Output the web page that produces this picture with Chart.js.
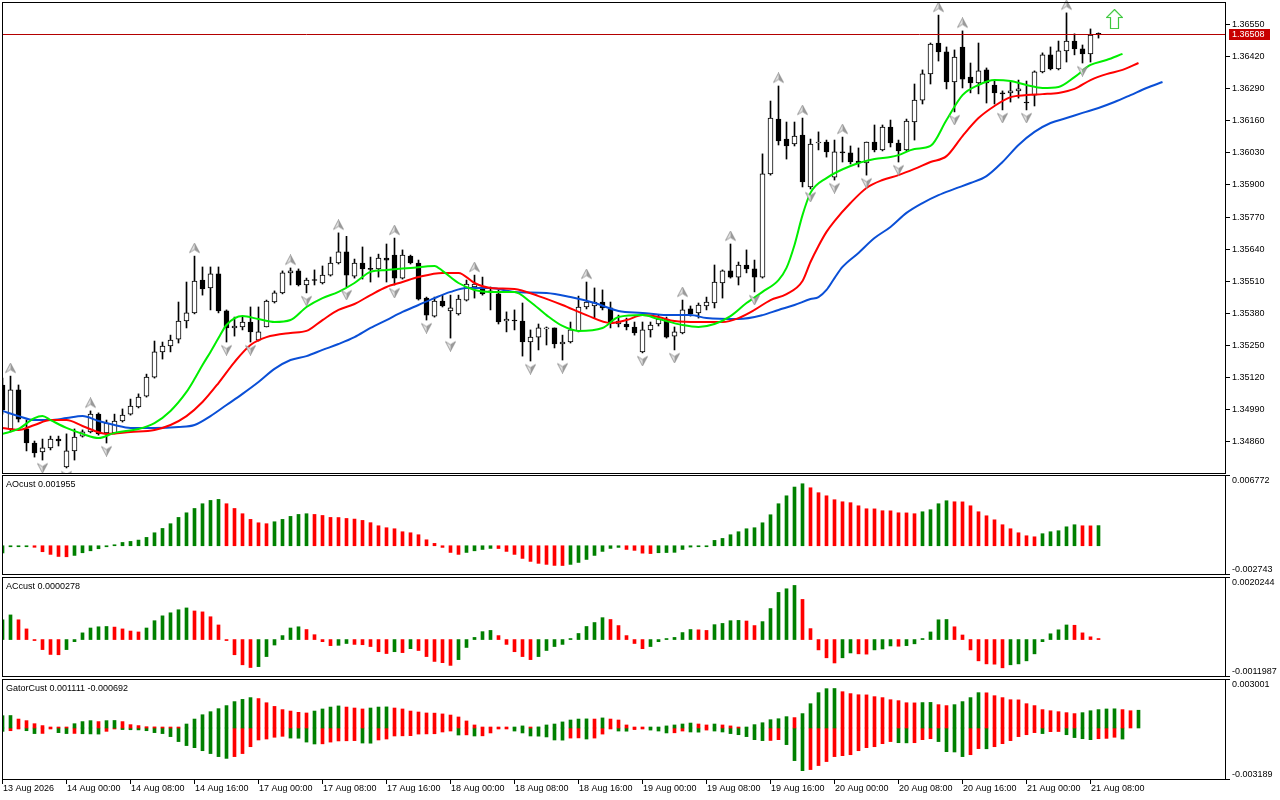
<!DOCTYPE html>
<html>
<head>
<meta charset="utf-8">
<script src="https://cdn.jsdelivr.net/npm/chart.js@4.4.1/dist/chart.umd.min.js"></script>
<style>
  html, body { margin: 0; padding: 0; background: #fff; }
  #wrap { position: relative; width: 1280px; height: 800px; overflow: hidden; }
  #wrap canvas { position: absolute; left: 0; }
</style>
</head>
<body>
<div id="wrap">
  <canvas id="mainChart" width="1280" height="474" style="top:0"></canvas>
  <canvas id="aoChart" width="1280" height="102" style="top:474px"></canvas>
  <canvas id="acChart" width="1280" height="102" style="top:576px"></canvas>
  <canvas id="gatorChart" width="1280" height="122" style="top:678px"></canvas>
</div>
<script>
// ===== candles (H1, bar 0 = 13 Aug 16:00) =====
const opens = [1.35088,1.34910,1.35068,1.34910,1.34853,1.34817,1.34833,1.34869,1.34756,1.34821,
  1.34881,1.34898,1.34970,1.34894,1.34894,1.34942,1.34970,1.34999,1.35043,1.35120,
  1.35222,1.35246,1.35274,1.35347,1.35380,1.35513,1.35481,1.35538,1.35388,1.35319,
  1.35323,1.35343,1.35270,1.35323,1.35424,1.35461,1.35542,1.35550,1.35493,1.35513,
  1.35501,1.35533,1.35582,1.35627,1.35529,1.35582,1.35558,1.35558,1.35602,1.35614,
  1.35521,1.35610,1.35582,1.35440,1.35367,1.35428,1.35388,1.35376,1.35432,1.35485,
  1.35485,1.35469,1.35457,1.35347,1.35351,1.35347,1.35262,1.35282,1.35315,1.35319,
  1.35254,1.35262,1.35307,1.35404,1.35408,1.35424,1.35400,1.35335,1.35335,1.35323,
  1.35222,1.35311,1.35335,1.35355,1.35286,1.35299,1.35396,1.35380,1.35408,1.35420,
  1.35501,1.35550,1.35525,1.35574,1.35558,1.35525,1.35943,1.36165,1.36084,1.36064,
  1.36100,1.35890,1.36068,1.36072,1.35930,1.36032,1.36028,1.35995,1.35987,1.36072,
  1.36040,1.36133,1.36068,1.36040,1.36153,1.36242,1.36348,1.36473,1.36437,1.36315,
  1.36457,1.36335,1.36311,1.36364,1.36303,1.36271,1.36271,1.36279,1.36234,1.36262,
  1.36356,1.36425,1.36368,1.36441,1.36481,1.36449,1.36429,1.36512];
const highs = [1.35116,1.35124,1.35088,1.34946,1.34861,1.34869,1.34881,1.34881,1.34890,1.34910,
  1.34906,1.34983,1.34975,1.34946,1.34970,1.34991,1.35031,1.35052,1.35132,1.35266,
  1.35262,1.35290,1.35424,1.35505,1.35610,1.35566,1.35566,1.35566,1.35392,1.35363,
  1.35363,1.35404,1.35404,1.35432,1.35469,1.35550,1.35562,1.35558,1.35521,1.35554,
  1.35570,1.35606,1.35704,1.35690,1.35598,1.35647,1.35606,1.35618,1.35659,1.35683,
  1.35635,1.35614,1.35594,1.35444,1.35444,1.35452,1.35452,1.35452,1.35513,1.35533,
  1.35525,1.35485,1.35473,1.35384,1.35392,1.35420,1.35311,1.35335,1.35323,1.35319,
  1.35290,1.35343,1.35448,1.35505,1.35481,1.35473,1.35424,1.35371,1.35359,1.35343,
  1.35343,1.35343,1.35371,1.35363,1.35323,1.35432,1.35408,1.35420,1.35444,1.35574,
  1.35554,1.35659,1.35586,1.35635,1.35594,1.36024,1.36238,1.36299,1.36153,1.36153,
  1.36169,1.36084,1.36113,1.36080,1.36080,1.36092,1.36056,1.36048,1.36072,1.36141,
  1.36141,1.36161,1.36080,1.36165,1.36307,1.36364,1.36473,1.36586,1.36457,1.36445,
  1.36522,1.36392,1.36473,1.36372,1.36323,1.36279,1.36315,1.36323,1.36319,1.36360,
  1.36433,1.36457,1.36481,1.36595,1.36510,1.36465,1.36530,1.36514];
const lows = [1.34970,1.34898,1.34938,1.34821,1.34796,1.34784,1.34825,1.34841,1.34752,1.34784,
  1.34877,1.34894,1.34885,1.34853,1.34890,1.34938,1.34966,1.34995,1.35039,1.35116,
  1.35193,1.35222,1.35258,1.35319,1.35376,1.35452,1.35392,1.35380,1.35262,1.35286,
  1.35311,1.35262,1.35266,1.35323,1.35420,1.35457,1.35493,1.35489,1.35461,1.35493,
  1.35497,1.35529,1.35578,1.35485,1.35521,1.35517,1.35505,1.35525,1.35505,1.35493,
  1.35517,1.35578,1.35432,1.35351,1.35363,1.35404,1.35278,1.35371,1.35428,1.35440,
  1.35452,1.35392,1.35335,1.35303,1.35311,1.35205,1.35185,1.35230,1.35250,1.35238,
  1.35189,1.35258,1.35303,1.35396,1.35359,1.35392,1.35319,1.35323,1.35311,1.35290,
  1.35218,1.35282,1.35327,1.35278,1.35230,1.35295,1.35367,1.35359,1.35392,1.35400,
  1.35440,1.35521,1.35493,1.35542,1.35465,1.35521,1.35938,1.36060,1.36003,1.36056,
  1.35890,1.35882,1.36040,1.36011,1.35918,1.35991,1.35983,1.35971,1.35938,1.36032,
  1.36036,1.36052,1.35991,1.36036,1.36080,1.36226,1.36307,1.36400,1.36287,1.36194,
  1.36291,1.36271,1.36267,1.36230,1.36226,1.36202,1.36234,1.36250,1.36202,1.36218,
  1.36352,1.36364,1.36364,1.36396,1.36425,1.36392,1.36396,1.36493];
const closes = [1.34987,1.35068,1.34950,1.34853,1.34813,1.34833,1.34869,1.34861,1.34821,1.34877,
  1.34898,1.34970,1.34890,1.34934,1.34942,1.34966,1.35003,1.35039,1.35120,1.35222,
  1.35246,1.35270,1.35347,1.35380,1.35509,1.35477,1.35538,1.35388,1.35319,1.35327,
  1.35343,1.35303,1.35303,1.35428,1.35461,1.35542,1.35550,1.35493,1.35513,1.35511,
  1.35533,1.35582,1.35627,1.35533,1.35582,1.35558,1.35556,1.35602,1.35594,1.35521,
  1.35614,1.35582,1.35436,1.35371,1.35428,1.35408,1.35400,1.35436,1.35497,1.35497,
  1.35457,1.35465,1.35343,1.35355,1.35347,1.35262,1.35282,1.35319,1.35319,1.35254,
  1.35262,1.35311,1.35404,1.35424,1.35424,1.35400,1.35343,1.35347,1.35323,1.35299,
  1.35311,1.35331,1.35355,1.35282,1.35303,1.35392,1.35376,1.35412,1.35424,1.35505,
  1.35550,1.35525,1.35574,1.35558,1.35525,1.35943,1.36169,1.36076,1.36056,1.36096,
  1.35910,1.36064,1.36072,1.36032,1.36032,1.36028,1.35991,1.35987,1.36072,1.36040,
  1.36133,1.36068,1.36036,1.36157,1.36242,1.36348,1.36469,1.36437,1.36315,1.36416,
  1.36327,1.36311,1.36360,1.36311,1.36271,1.36267,1.36279,1.36287,1.36230,1.36356,
  1.36425,1.36368,1.36441,1.36481,1.36449,1.36429,1.36505,1.36508];

// fractal bars
const fractalUpBars = [1,11,24,36,42,49,59,73,85,91,97,100,105,117,120,133];
const fractalDownBars = [5,8,13,28,31,38,43,49,53,56,66,70,80,84,94,101,104,108,112,119,125,128,135];
// buy signal arrow
const signalBar = 139;
const signalPrice = 1.36570;

// ===== alligator (already shifted forward) =====
const jawBars = [0,2,4,6,8,10,12,14,16,19,22,24,26,28,30,32,34,36,38,40,42,44,46,48,50,52,54,56,58,
  61,64,68,71,74,77,80,83,86,88,92,95,97,99,101,102,103,104,105,107,109,111,113,115,117,119,121,
  123,125,127,129,131,133,135,137,139,141,143,145];
const jawValues = [1.34983,1.34962,1.34946,1.34946,1.34954,1.34962,1.34942,1.34926,1.34914,1.34914,
  1.34918,1.34926,1.34962,1.35007,1.35052,1.35100,1.35153,1.35189,1.35205,1.35230,1.35254,1.35282,
  1.35319,1.35351,1.35384,1.35412,1.35440,1.35465,1.35481,1.35481,1.35465,1.35461,1.35444,1.35420,
  1.35388,1.35380,1.35371,1.35371,1.35359,1.35355,1.35371,1.35392,1.35412,1.35436,1.35444,1.35473,
  1.35521,1.35566,1.35623,1.35683,1.35728,1.35785,1.35825,1.35857,1.35882,1.35906,1.35934,1.35991,
  1.36060,1.36113,1.36149,1.36169,1.36190,1.36210,1.36234,1.36262,1.36291,1.36315];
const teethBars = [0,2,4,6,8,10,13,16,19,21,23,25,27,29,31,33,36,38,40,42,44,46,48,50,52,55,57,59,
  61,64,67,70,73,76,78,80,82,84,87,90,92,94,96,98,100,101,102,103,104,106,108,110,112,114,116,118,
  120,122,124,126,128,130,132,134,136,138,140,142];
const teethValues = [1.34914,1.34906,1.34926,1.34946,1.34946,1.34922,1.34890,1.34898,1.34906,1.34926,
  1.34962,1.35019,1.35096,1.35181,1.35250,1.35282,1.35299,1.35307,1.35351,1.35392,1.35416,1.35452,
  1.35485,1.35505,1.35525,1.35542,1.35542,1.35501,1.35481,1.35477,1.35448,1.35412,1.35371,1.35339,
  1.35351,1.35371,1.35363,1.35347,1.35343,1.35343,1.35359,1.35392,1.35432,1.35456,1.35509,1.35586,
  1.35651,1.35708,1.35752,1.35825,1.35886,1.35918,1.35938,1.35963,1.35991,1.36015,1.36096,1.36169,
  1.36218,1.36254,1.36262,1.36266,1.36271,1.36287,1.36323,1.36347,1.36364,1.36392];
const lipsBars = [0,2,4,5,6,8,10,12,14,17,19,21,23,24,25,26,27,28,30,32,34,36,38,40,42,44,46,48,51,
  54,55,57,59,61,64,66,68,70,72,75,77,80,82,85,87,89,91,93,95,97,98,99,100,101,103,106,109,111,112,
  114,116,118,120,122,124,126,128,130,132,134,136,138,140];
const lipsValues = [1.34890,1.34910,1.34954,1.34962,1.34946,1.34914,1.34890,1.34873,1.34894,1.34910,
  1.34934,1.34983,1.35060,1.35112,1.35169,1.35222,1.35278,1.35331,1.35367,1.35355,1.35343,1.35351,
  1.35404,1.35440,1.35465,1.35501,1.35546,1.35554,1.35562,1.35570,1.35550,1.35501,1.35473,1.35465,
  1.35465,1.35424,1.35371,1.35327,1.35307,1.35319,1.35363,1.35371,1.35355,1.35331,1.35323,1.35335,
  1.35367,1.35420,1.35465,1.35513,1.35562,1.35655,1.35776,1.35866,1.35926,1.35975,1.36003,1.36011,
  1.36019,1.36044,1.36056,1.36161,1.36262,1.36303,1.36323,1.36319,1.36303,1.36291,1.36295,1.36335,
  1.36384,1.36404,1.36429];

// ===== oscillators =====
const aoValues = [-0.00070,-0.00010,-0.00008,-0.00005,-0.00015,-0.00058,-0.00084,-0.00104,-0.00107,-0.00094,
  -0.00068,-0.00049,-0.00029,-0.00010,0.00005,0.00032,0.00042,0.00055,0.00081,0.00126,
  0.00168,0.00214,0.00275,0.00320,0.00362,0.00408,0.00440,0.00450,0.00408,0.00362,
  0.00311,0.00256,0.00223,0.00214,0.00233,0.00256,0.00285,0.00304,0.00311,0.00304,
  0.00294,0.00275,0.00274,0.00265,0.00259,0.00246,0.00224,0.00194,0.00175,0.00165,
  0.00136,0.00126,0.00107,0.00058,0.00023,-0.00016,-0.00065,-0.00084,-0.00065,-0.00049,
  -0.00036,-0.00026,-0.00027,-0.00055,-0.00084,-0.00123,-0.00152,-0.00171,-0.00181,-0.00191,
  -0.00192,-0.00181,-0.00162,-0.00133,-0.00094,-0.00055,-0.00026,-0.00016,-0.00036,-0.00045,
  -0.00072,-0.00076,-0.00068,-0.00066,-0.00064,-0.00036,-0.00013,-0.00006,-0.00003,0.00052,
  0.00071,0.00107,0.00136,0.00165,0.00175,0.00223,0.00301,0.00408,0.00485,0.00570,
  0.00602,0.00563,0.00515,0.00485,0.00447,0.00427,0.00418,0.00388,0.00359,0.00358,
  0.00340,0.00339,0.00320,0.00319,0.00311,0.00330,0.00350,0.00408,0.00437,0.00427,
  0.00426,0.00388,0.00330,0.00291,0.00252,0.00204,0.00165,0.00126,0.00097,0.00087,
  0.00117,0.00136,0.00146,0.00184,0.00204,0.00194,0.00193,0.001955];
const acValues = [0.00065,0.00081,0.00065,0.00035,-0.00002,-0.00033,-0.00049,-0.00050,-0.00033,-0.00007,
  0.00022,0.00038,0.00042,0.00043,0.00041,0.00035,0.00028,0.00025,0.00038,0.00062,
  0.00078,0.00088,0.00098,0.00104,0.00094,0.00091,0.00075,0.00048,-0.00002,-0.00050,
  -0.00083,-0.00092,-0.00089,-0.00056,-0.00018,0.00013,0.00038,0.00042,0.00033,0.00016,
  -0.00007,-0.00020,-0.00019,-0.00013,-0.00016,-0.00017,-0.00023,-0.00040,-0.00046,-0.00040,
  -0.00043,-0.00030,-0.00036,-0.00056,-0.00072,-0.00076,-0.00085,-0.00066,-0.00026,0.00007,
  0.00026,0.00030,0.00013,-0.00016,-0.00040,-0.00056,-0.00066,-0.00056,-0.00036,-0.00023,
  -0.00016,0.00003,0.00020,0.00043,0.00056,0.00072,0.00066,0.00046,0.00013,-0.00013,
  -0.00030,-0.00023,-0.00007,0.00003,0.00007,0.00023,0.00033,0.00032,0.00030,0.00049,
  0.00053,0.00062,0.00063,0.00061,0.00046,0.00059,0.00102,0.00155,0.00167,0.00178,
  0.00132,0.00036,-0.00034,-0.00060,-0.00077,-0.00060,-0.00044,-0.00047,-0.00048,-0.00034,
  -0.00031,-0.00021,-0.00022,-0.00020,-0.00014,0.00003,0.00025,0.00065,0.00066,0.00042,
  0.00015,-0.00034,-0.00070,-0.00080,-0.00081,-0.00093,-0.00083,-0.00080,-0.00070,-0.00047,
  -0.00007,0.00019,0.00032,0.00048,0.00047,0.00022,0.00009,0.0000278];
const gatorUpper = [0.00077,0.00078,0.00056,0.00046,0.00027,0.00015,0.00004,0.00002,0.00001,0.00027,
  0.00040,0.00046,0.00040,0.00046,0.00047,0.00040,0.00021,0.00015,0.00008,0.00007,
  0.00006,0.00004,0.00002,0.00025,0.00056,0.00083,0.00102,0.00121,0.00140,0.00165,
  0.00179,0.00190,0.00184,0.00158,0.00135,0.00115,0.00106,0.00098,0.00094,0.00106,
  0.00119,0.00131,0.00138,0.00131,0.00125,0.00119,0.00125,0.00131,0.00132,0.00125,
  0.00119,0.00106,0.00100,0.00094,0.00093,0.00088,0.00081,0.00069,0.00044,0.00019,
  0.00006,0.00002,0.00001,0.000005,0.00006,0.00013,0.00006,0.00007,0.00019,0.00025,
  0.00038,0.00050,0.00056,0.00057,0.00056,0.00063,0.00056,0.00050,0.00019,0.00006,
  0.00002,0.00003,0.00006,0.00013,0.00019,0.00025,0.00031,0.00025,0.00019,0.00025,
  0.00019,0.00013,0.00002,0.00006,0.00021,0.00033,0.00052,0.00058,0.00071,0.00065,
  0.00090,0.00152,0.00221,0.00246,0.00247,0.00227,0.00215,0.00208,0.00207,0.00196,
  0.00190,0.00177,0.00171,0.00158,0.00157,0.00159,0.00160,0.00146,0.00140,0.00146,
  0.00165,0.00190,0.00221,0.00220,0.00202,0.00190,0.00177,0.00176,0.00152,0.00140,
  0.00115,0.00108,0.00102,0.00096,0.00090,0.00096,0.00108,0.00115,0.00119,0.00120,
  0.00115,0.00108,0.001111];
const gatorLower = [-0.00021,-0.00017,-0.00002,-0.00017,-0.00035,-0.00034,-0.00001,-0.00029,-0.00035,-0.00034,
  -0.00036,-0.00037,-0.00038,-0.00021,-0.00006,-0.00010,-0.00011,-0.00012,-0.00017,-0.00029,
  -0.00035,-0.00054,-0.00085,-0.00110,-0.00123,-0.00142,-0.00160,-0.00179,-0.00190,-0.00179,
  -0.00160,-0.00117,-0.00075,-0.00069,-0.00058,-0.00052,-0.00063,-0.00064,-0.00088,-0.00100,
  -0.00099,-0.00088,-0.00081,-0.00080,-0.00079,-0.00094,-0.00095,-0.00075,-0.00069,-0.00050,
  -0.00049,-0.00048,-0.00038,-0.00037,-0.00036,-0.00025,-0.00019,-0.00044,-0.00043,-0.00050,
  -0.00049,-0.00031,-0.00005,-0.00002,-0.00019,-0.00031,-0.00050,-0.00051,-0.00056,-0.00075,
  -0.00076,-0.00063,-0.00062,-0.00069,-0.00063,-0.00038,-0.00006,-0.00019,-0.00020,-0.00010,
  -0.00003,-0.00013,-0.00019,-0.00031,-0.00030,-0.00019,-0.00025,-0.00026,-0.00013,-0.00019,
  -0.00025,-0.00035,-0.00042,-0.00054,-0.00073,-0.00079,-0.00078,-0.00073,-0.00104,-0.00204,
  -0.00267,-0.00260,-0.00235,-0.00210,-0.00179,-0.00173,-0.00167,-0.00142,-0.00123,-0.00117,
  -0.00098,-0.00085,-0.00092,-0.00093,-0.00092,-0.00073,-0.00067,-0.00085,-0.00148,-0.00150,
  -0.00179,-0.00167,-0.00129,-0.00130,-0.00117,-0.00098,-0.00079,-0.00054,-0.00042,-0.00029,
  -0.00035,-0.00023,-0.00022,-0.00042,-0.00060,-0.00067,-0.00073,-0.00067,-0.00065,-0.00058,
  -0.000692,null,null];

// ===== axes =====
const priceTicks = [1.36550,1.36420,1.36290,1.36160,1.36030,1.35900,1.35770,1.35640,1.35510,1.35380,1.35250,1.35120,1.34990,1.34860];
const priceRange = [1.3473155, 1.366391];
const aoRange = [-0.002743, 0.006772];
const acRange = [-0.0011987, 0.0020244];
const gatorRange = [-0.003189, 0.003001];
const timeLabelBars = [0,8,16,24,32,40,48,56,64,72,80,88,96,104,112,120,128,136];
const timeLabels = ['13 Aug 2026','14 Aug 00:00','14 Aug 08:00','14 Aug 16:00','17 Aug 00:00','17 Aug 08:00',
  '17 Aug 16:00','18 Aug 00:00','18 Aug 08:00','18 Aug 16:00','19 Aug 00:00','19 Aug 08:00',
  '19 Aug 16:00','20 Aug 00:00','20 Aug 08:00','20 Aug 16:00','21 Aug 00:00','21 Aug 08:00'];

const X_MIN = -0.3125, X_MAX = 152.9375;   // 8 px per bar, 1226 px plot
const AXIS_W = 54;
const FONT = 'Liberation Sans';
const LABEL_FONT = '9px "' + FONT + '"';
const GREEN = '#008000', RED = '#ff0000';

// green when growing, red when falling (abs = compare magnitude)
function trendColors(vals, abs) {
  let last = GREEN;
  return vals.map((v, i) => {
    const p = i > 0 ? vals[i - 1] : null;
    if (v !== null && p !== null) {
      const a = abs ? Math.abs(v) : v, b = abs ? Math.abs(p) : p;
      if (a > b) last = GREEN; else if (a < b) last = RED;
    }
    return last;
  });
}

// fractal arrow images, arrow sits 8px off the point
function makeFractal(up) {
  const c = document.createElement('canvas');
  c.width = 11; c.height = 27;
  const g = c.getContext('2d');
  if (!up) { g.translate(0, 27); g.scale(1, -1); }
  g.beginPath(); g.moveTo(5.5, 0.5); g.lineTo(5.5, 7); g.lineTo(0.5, 10); g.closePath();
  g.fillStyle = '#e2e2e2'; g.fill();
  g.beginPath(); g.moveTo(5.5, 0.5); g.lineTo(10.5, 10); g.lineTo(5.5, 7); g.closePath();
  g.fillStyle = '#9c9c9c'; g.fill();
  g.beginPath(); g.moveTo(5.5, 0.5); g.lineTo(10.5, 10); g.lineTo(5.5, 7); g.lineTo(0.5, 10); g.closePath();
  g.strokeStyle = '#8a8a8a'; g.lineWidth = 0.8; g.stroke();
  return c;
}
function makeBuyArrow() {
  const c = document.createElement('canvas');
  c.width = 17; c.height = 20;
  const g = c.getContext('2d');
  g.beginPath();
  g.moveTo(8.5, 0.5); g.lineTo(16.5, 8.5); g.lineTo(12.5, 8.5); g.lineTo(12.5, 19.5);
  g.lineTo(4.5, 19.5); g.lineTo(4.5, 8.5); g.lineTo(0.5, 8.5); g.closePath();
  g.fillStyle = '#ffffff'; g.fill();
  g.strokeStyle = '#3cc83c'; g.lineWidth = 1.2; g.stroke();
  return c;
}

const commonOpts = {
  responsive: false, animation: false, devicePixelRatio: 1, events: [],
  plugins: { legend: { display: false }, tooltip: { enabled: false } }
};
const xScale = { type: 'linear', min: X_MIN, max: X_MAX, offset: false, display: false };

// ===== main price panel =====
const lastClose = closes[closes.length - 1];
const mainDecor = {
  id: 'mainDecor',
  afterDatasetsDraw(chart) {
    const { ctx, chartArea: a, scales: { y } } = chart;
    const py = Math.round(y.getPixelForValue(lastClose)) + 0.5;
    ctx.save();
    ctx.strokeStyle = '#b40000'; ctx.lineWidth = 1;
    ctx.beginPath(); ctx.moveTo(a.left, py); ctx.lineTo(a.right, py); ctx.stroke();
    ctx.restore();
  },
  afterDraw(chart) {
    const { ctx, chartArea: a, scales: { y } } = chart;
    ctx.save();
    ctx.fillStyle = '#fff'; ctx.fillRect(0, 0, 2, chart.height);
    ctx.strokeStyle = '#000'; ctx.lineWidth = 1;
    ctx.strokeRect(2.5, a.top + 0.5, 1223, a.bottom - a.top);
    // price scale: ticks + labels
    ctx.fillStyle = '#000'; ctx.font = LABEL_FONT; ctx.textBaseline = 'middle';
    ctx.beginPath();
    priceTicks.forEach(v => {
      const py = Math.round(y.getPixelForValue(v)) + 0.5;
      ctx.moveTo(1226, py); ctx.lineTo(1230, py);
      ctx.fillText(v.toFixed(5), 1232, py);
    });
    ctx.stroke();
    // last price box
    const py = Math.round(y.getPixelForValue(lastClose));
    ctx.fillStyle = '#c80000'; ctx.fillRect(1229, py - 5, 41, 11);
    ctx.fillStyle = '#fff';
    ctx.fillText(lastClose.toFixed(5), 1232, py + 0.5);
    ctx.restore();
  }
};

const bars = opens.map((_, i) => i);
const toPoints = (xs, ys) => xs.map((x, k) => ({ x: x, y: ys[k] }));
const lineSet = (xs, ys, color, order) => ({
  type: 'line', data: toPoints(xs, ys), borderColor: color, borderWidth: 2,
  pointRadius: 0, cubicInterpolationMode: 'monotone', order: order
});

new Chart(document.getElementById('mainChart'), {
  type: 'bar',
  data: {
    datasets: [
      { type: 'scatter', data: fractalUpBars.map(i => ({ x: i, y: highs[i] })),
        pointStyle: makeFractal(true), pointRadius: 5, clip: false, order: 1 },
      { type: 'scatter', data: fractalDownBars.map(i => ({ x: i, y: lows[i] })),
        pointStyle: makeFractal(false), pointRadius: 5, clip: false, order: 1 },
      { type: 'scatter', data: [{ x: signalBar, y: signalPrice }],
        pointStyle: makeBuyArrow(), pointRadius: 8, clip: false, order: 1 },
      lineSet(lipsBars, lipsValues, '#00ee00', 2.0),
      lineSet(teethBars, teethValues, '#ff0000', 2.1),
      lineSet(jawBars, jawValues, '#0a4fd6', 2.2),
      { data: bars.map(i => ({ x: i, y: [opens[i], closes[i]] })),
        backgroundColor: bars.map(i => closes[i] >= opens[i] ? '#ffffff' : '#000000'),
        borderColor: '#000', borderWidth: 1, borderSkipped: false,
        barThickness: 5, grouped: false, minBarLength: 1, order: 3 },
      { data: bars.map(i => ({ x: i, y: [lows[i], highs[i]] })),
        backgroundColor: '#000', borderWidth: 0, barThickness: 1, grouped: false, order: 4 }
    ]
  },
  options: Object.assign({}, commonOpts, {
    layout: { autoPadding: false, padding: { top: 2, bottom: 1, left: 0, right: AXIS_W } },
    scales: {
      x: xScale,
      y: { type: 'linear', min: priceRange[0], max: priceRange[1], display: false }
    }
  }),
  plugins: [mainDecor]
});

// ===== indicator panels =====
function panelDecor(title, range, digits, showTime) {
  return {
    id: 'panelDecor',
    afterDraw(chart) {
      const { ctx, chartArea: a, scales: { x } } = chart;
      const top = a.top - 1, bot = a.bottom;
      ctx.save();
      ctx.fillStyle = '#fff'; ctx.fillRect(0, 0, 2, chart.height);
      ctx.strokeStyle = '#000'; ctx.lineWidth = 1;
      ctx.strokeRect(2.5, top + 0.5, 1223, bot - top);
      ctx.beginPath();
      ctx.moveTo(1226, top + 0.5); ctx.lineTo(1230, top + 0.5);
      ctx.moveTo(1226, bot + 0.5); ctx.lineTo(1230, bot + 0.5);
      ctx.stroke();
      ctx.fillStyle = '#000'; ctx.font = LABEL_FONT; ctx.textBaseline = 'middle';
      ctx.fillText(range[1].toFixed(digits), 1232, a.top + 4.5);
      ctx.fillText(range[0].toFixed(digits), 1232, a.bottom - 4.5);
      ctx.fillText(title, 6, 10.5);
      if (showTime) {
        ctx.beginPath();
        timeLabelBars.forEach((b, k) => {
          const px = Math.floor(x.getPixelForValue(b)) + 0.5;
          ctx.moveTo(px, bot + 1); ctx.lineTo(px, bot + 5);
          ctx.fillText(timeLabels[k], px + 0.5, bot + 9.5);
        });
        ctx.stroke();
      }
      ctx.restore();
    }
  };
}

function histo(values, colors) {
  return { data: values.map((v, i) => ({ x: i, y: v })), backgroundColor: colors,
           borderWidth: 0, barThickness: 3, grouped: false, minBarLength: 1 };
}

function indicatorChart(id, datasets, range, padBottom, plugin) {
  return new Chart(document.getElementById(id), {
    type: 'bar',
    data: { datasets: datasets },
    options: Object.assign({}, commonOpts, {
      layout: { autoPadding: false, padding: { top: 2, bottom: padBottom, left: 0, right: AXIS_W } },
      scales: { x: xScale, y: { type: 'linear', min: range[0], max: range[1], display: false } }
    }),
    plugins: [plugin]
  });
}

indicatorChart('aoChart', [histo(aoValues, trendColors(aoValues, false))], aoRange, 2,
  panelDecor('AOcust ' + aoValues[aoValues.length - 1].toFixed(6), aoRange, 6, false));

indicatorChart('acChart', [histo(acValues, trendColors(acValues, false))], acRange, 2,
  panelDecor('ACcust ' + acValues[acValues.length - 1].toFixed(7), acRange, 7, false));

const lastLower = gatorLower.filter(v => v !== null).pop();
indicatorChart('gatorChart', [
    histo(gatorUpper, trendColors(gatorUpper, true)),
    histo(gatorLower, trendColors(gatorLower, true))
  ], gatorRange, 21,
  panelDecor('GatorCust ' + gatorUpper[gatorUpper.length - 1].toFixed(6) + ' ' + lastLower.toFixed(6),
             gatorRange, 6, true));
</script>
</body>
</html>
